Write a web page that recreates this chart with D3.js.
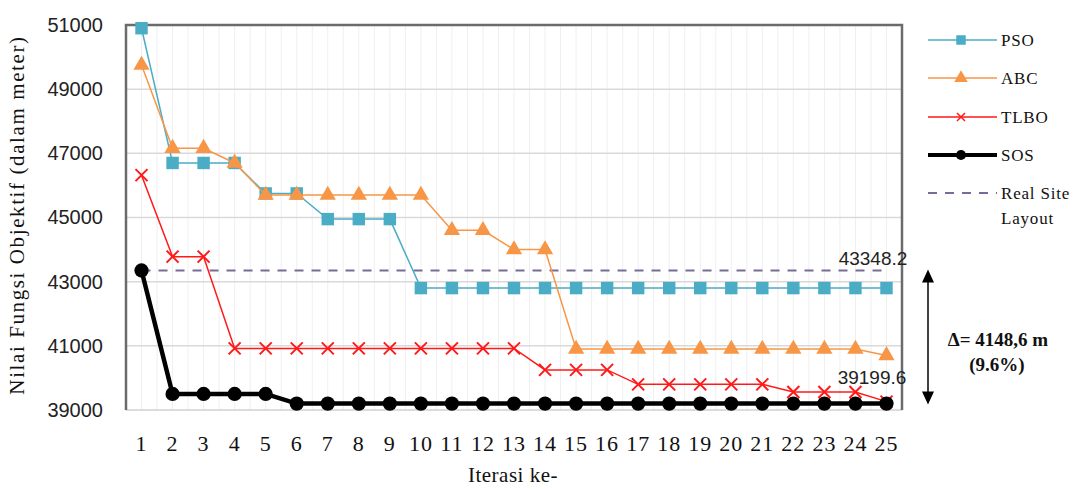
<!DOCTYPE html>
<html><head><meta charset="utf-8">
<script src="https://cdn.jsdelivr.net/npm/d3@7"></script>
<style>body{margin:0;background:#fff}svg{display:block}</style>
</head><body>
<svg id="c" width="1077" height="489"></svg>
<script>
const iterations = d3.range(1, 26).map(String);
const pso  = [50900,46700,46700,46700,45750,45750,44950,44950,44950,42800,42800,42800,42800,42800,42800,42800,42800,42800,42800,42800,42800,42800,42800,42800,42800];
const abc  = [49750,47160,47160,46700,45700,45700,45700,45700,45700,45700,44600,44600,44000,44000,40900,40900,40900,40900,40900,40900,40900,40900,40900,40900,40700];
const tlbo = [46320,43780,43780,40920,40920,40920,40920,40920,40920,40920,40920,40920,40920,40250,40250,40250,39800,39800,39800,39800,39800,39560,39560,39560,39260];
const sos  = [43348.2,39500,39500,39500,39500,39199.6,39199.6,39199.6,39199.6,39199.6,39199.6,39199.6,39199.6,39199.6,39199.6,39199.6,39199.6,39199.6,39199.6,39199.6,39199.6,39199.6,39199.6,39199.6,39199.6];
const realSite = 43348.2;
const yTicks = [39000,41000,43000,45000,47000,49000,51000];
const seriesNames = ["PSO","ABC","TLBO","SOS","Real Site Layout"];

const svg = d3.select("#c");
const L=126,R=902,T=25,B=410;
const x = d3.scaleBand().domain(iterations).range([L,R]);
const y = d3.scaleLinear().domain([39000,51000]).range([B,T]);
const cx = d => x(d)+x.bandwidth()/2;

// faint vertical grid (half category)
const vg = svg.append("g");
iterations.forEach(d=>{
  [x(d), cx(d)].forEach(v=>vg.append("line").attr("x1",v).attr("x2",v).attr("y1",T).attr("y2",B).attr("stroke","#efefef").attr("stroke-width",1));
});
// horizontal grid
svg.append("g").selectAll("line").data(yTicks.slice(1,-1)).join("line")
  .attr("x1",L).attr("x2",R).attr("y1",d=>y(d)).attr("y2",d=>y(d))
  .attr("stroke","#d9d9d9").attr("stroke-width",1.5);
svg.append("line").attr("x1",L).attr("x2",R).attr("y1",B).attr("y2",B).attr("stroke","#d0d0d0").attr("stroke-width",1.5);
svg.append("path").attr("d",`M${L},${B}V${T}H${R}V${B}`).attr("fill","none").attr("stroke","#6b6b6b").attr("stroke-width",2.5);

// y axis labels
const yAxis = d3.axisLeft(y).tickValues(yTicks).tickSize(0).tickPadding(23).tickFormat(d3.format("d"));
const ya = svg.append("g").attr("transform",`translate(${L},0)`).call(yAxis);
ya.select(".domain").remove();
ya.selectAll("text").attr("font-family","Liberation Sans, sans-serif").attr("font-size",20).attr("fill","#222");

// x axis labels
const xAxis = d3.axisBottom(x).tickSize(0).tickPadding(25);
const xa = svg.append("g").attr("transform",`translate(0,${B})`).call(xAxis);
xa.select(".domain").remove();
xa.selectAll("text").attr("font-family","Liberation Serif, serif").attr("font-size",22).attr("letter-spacing",1).attr("fill","#111");

// titles
svg.append("text").attr("transform","translate(24,215) rotate(-90)").attr("text-anchor","middle")
  .attr("font-family","Liberation Serif, serif").attr("font-size",21).attr("letter-spacing",1.6).attr("fill","#111").text("Nilai Fungsi Objektif (dalam meter)");
svg.append("text").attr("x",513).attr("y",482).attr("text-anchor","middle")
  .attr("font-family","Liberation Serif, serif").attr("font-size",21).attr("letter-spacing",0.5).attr("fill","#111").text("Iterasi ke-");

// real site dashed
svg.append("line").attr("x1",cx("1")).attr("x2",cx("25")).attr("y1",y(realSite)).attr("y2",y(realSite))
  .attr("stroke","#7b6a96").attr("stroke-width",2).attr("stroke-dasharray","9,8");

const line = d3.line().x((d,i)=>cx(iterations[i])).y(d=>y(d));
function xMark(g, s, color, w){
  return g.append("path").attr("d",`M${-s},${-s}L${s},${s}M${-s},${s}L${s},${-s}`).attr("stroke",color).attr("stroke-width",w).attr("fill","none");
}
function drawSeries(vals, color, lw, kind){
  svg.append("path").datum(vals).attr("d",line).attr("fill","none").attr("stroke",color).attr("stroke-width",lw);
  const g = svg.append("g");
  vals.forEach((v,i)=>{
    const gg = g.append("g").attr("transform",`translate(${cx(iterations[i])},${y(v)})`);
    if(kind==="x") xMark(gg,6,color,2);
    else {
      const sym = kind==="square"?d3.symbolSquare:kind==="triangle"?d3.symbolTriangle:d3.symbolCircle;
      const size = kind==="square"?155:kind==="triangle"?115:160;
      gg.append("path").attr("d",d3.symbol(sym,size)()).attr("fill",color);
    }
  });
}
drawSeries(pso,"#4bacc6",1.5,"square");
drawSeries(abc,"#f79646",1.5,"triangle");
drawSeries(tlbo,"#ff1a1a",1.5,"x");
drawSeries(sos,"#000",4.5,"circle");

// value labels
svg.append("text").attr("x",873).attr("y",265).attr("text-anchor","middle")
  .attr("font-family","Liberation Sans, sans-serif").attr("font-size",19).attr("fill","#222").text("43348.2");
svg.append("text").attr("x",872).attr("y",384).attr("text-anchor","middle")
  .attr("font-family","Liberation Sans, sans-serif").attr("font-size",19).attr("fill","#222").text("39199.6");

// delta arrow
const ax=928;
svg.append("line").attr("x1",ax).attr("x2",ax).attr("y1",y(realSite)+8).attr("y2",y(39199.6)-8).attr("stroke","#000").attr("stroke-width",1.5);
svg.append("path").attr("d",`M${ax-6},${y(realSite)+12}L${ax},${y(realSite)-1}L${ax+6},${y(realSite)+12}Z`).attr("fill","#000");
svg.append("path").attr("d",`M${ax-6},${y(39199.6)-12}L${ax},${y(39199.6)+1}L${ax+6},${y(39199.6)-12}Z`).attr("fill","#000");
svg.append("text").attr("x",998).attr("y",346).attr("text-anchor","middle").attr("font-family","Liberation Serif, serif")
  .attr("font-size",19).attr("font-weight","bold").attr("fill","#111").text("Δ= 4148,6 m");
svg.append("text").attr("x",997).attr("y",371).attr("text-anchor","middle").attr("font-family","Liberation Serif, serif")
  .attr("font-size",19).attr("font-weight","bold").attr("fill","#111").text("(9.6%)");

// legend
const legY=[40,78,117,155,193];
const legColors=["#4bacc6","#f79646","#ff1a1a","#000","#7b6a96"];
const lx1=928,lx2=997,lm=961;
const ltxt = (xx,yy,s)=>svg.append("text").attr("x",xx).attr("y",yy).attr("font-family","Liberation Serif, serif").attr("font-size",17).attr("letter-spacing",0.8).attr("fill","#111").text(s);
seriesNames.forEach((n,i)=>{
  const yy=legY[i];
  const ln=svg.append("line").attr("x1",lx1).attr("x2",lx2).attr("y1",yy).attr("y2",yy).attr("stroke",legColors[i]).attr("stroke-width",i===3?4:1.5);
  if(i===4) ln.attr("stroke-dasharray","9,8").attr("stroke-width",2);
  const g=svg.append("g").attr("transform",`translate(${lm},${yy})`);
  if(i===0) g.append("path").attr("d",d3.symbol(d3.symbolSquare,90)()).attr("fill",legColors[i]);
  if(i===1) g.append("path").attr("d",d3.symbol(d3.symbolTriangle,80)()).attr("fill",legColors[i]);
  if(i===2) xMark(g,4,legColors[i],1.5);
  if(i===3) g.append("path").attr("d",d3.symbol(d3.symbolCircle,80)()).attr("fill",legColors[i]);
  if(i===4){ ltxt(1001,yy+6,"Real Site"); ltxt(1001,yy+31,"Layout"); }
  else ltxt(1001,yy+6,n);
});
</script>
</body></html>
